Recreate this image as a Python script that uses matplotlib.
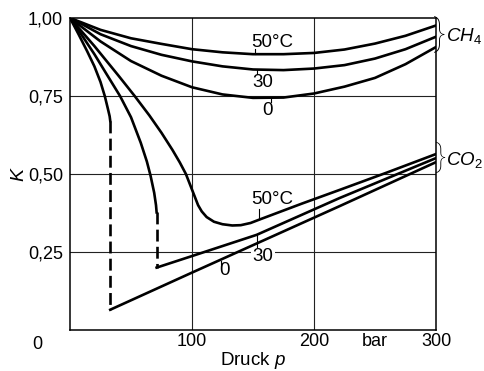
import matplotlib
matplotlib.use("Agg")
import matplotlib.pyplot as plt

plt.rcParams['font.family'] = 'Liberation Sans'
plt.rcParams['mathtext.fontset'] = 'custom'
plt.rcParams['mathtext.rm'] = 'Liberation Sans'
plt.rcParams['mathtext.it'] = 'Liberation Sans:italic'

# %% data (K over pressure p in bar)
p_ch4 = [0, 10, 25, 50, 75, 100, 125, 150, 175, 200, 225, 250, 275, 300]
k_ch4_50 = [1.0, 0.985, 0.962, 0.935, 0.917, 0.900, 0.890, 0.884, 0.884, 0.888, 0.899, 0.918, 0.943, 0.976]
k_ch4_30 = [1.0, 0.980, 0.948, 0.910, 0.882, 0.861, 0.845, 0.835, 0.833, 0.838, 0.849, 0.870, 0.900, 0.940]
k_ch4_0 = [1.0, 0.970, 0.925, 0.862, 0.815, 0.778, 0.755, 0.744, 0.745, 0.758, 0.780, 0.808, 0.852, 0.907]

# CO2 0 degC: solid drop, dashed jump, straight rise
p_co2_0_top = [0, 7, 14, 20, 25, 28.5, 31, 32.5, 33]
k_co2_0_top = [1.0, 0.948, 0.894, 0.845, 0.795, 0.75, 0.71, 0.685, 0.67]
p_co2_0_jump = [33, 33]
k_co2_0_jump = [0.67, 0.065]
p_co2_0_low = [33, 100, 150, 221, 300]
k_co2_0_low = [0.065, 0.184, 0.272, 0.397, 0.538]

# CO2 30 degC
p_co2_30_top = [0, 10, 20, 30, 41, 50, 58, 63, 66, 69, 70.5, 71]
k_co2_30_top = [1.0, 0.943, 0.884, 0.82, 0.75, 0.682, 0.60, 0.54, 0.495, 0.44, 0.40, 0.377]
p_co2_30_jump = [71, 71]
k_co2_30_jump = [0.377, 0.2]
p_co2_30_low = [71, 100, 153, 221, 300]
k_co2_30_low = [0.2, 0.237, 0.305, 0.423, 0.551]

# CO2 50 degC (no jump)
p_co2_50 = [0, 10, 20, 30, 40, 53, 65, 75, 84, 90, 95, 99, 102, 105, 108, 112, 118, 125, 133,
            140, 148, 156, 190, 221, 260, 300]
k_co2_50 = [1.0, 0.955, 0.91, 0.862, 0.814, 0.75, 0.688, 0.632, 0.577, 0.537, 0.50, 0.46, 0.43,
            0.40, 0.38, 0.362, 0.347, 0.339, 0.335, 0.336, 0.343, 0.355, 0.405, 0.449, 0.505, 0.564]

# curve labels: text, text position, tick line
labels = ["50°C", "30", "0", "50°C", "30", "0"]
label_x = [166, 158, 161.5, 166, 158, 127]
label_y = [0.923, 0.792, 0.703, 0.417, 0.234, 0.19]
tick_x = [152, 153, 165, 155, 153, 124]
tick_y0 = [0.884, 0.834, 0.742, 0.357, 0.305, 0.222]
tick_y1 = [0.900, 0.822, 0.730, 0.388, 0.265, 0.205]

xticks = [100, 200, 250, 300]
xticklabels = ["100", "200", "bar", "300"]
yticks = [0.25, 0.5, 0.75, 1.0]
yticklabels = ["0,25", "0,50", "0,75", "1,00"]

# %% plot
fig = plt.figure(figsize=(4.84, 3.71), dpi=100)
ax = fig.add_axes([70 / 484, 41 / 371, 366 / 484, 312 / 371])

lw = 1.9
for v in [100, 200]:
    ax.axvline(v, color="#222222", lw=0.8, zorder=1)
for h in [0.25, 0.5, 0.75]:
    ax.axhline(h, color="#222222", lw=0.8, zorder=1)

ax.plot(p_ch4, k_ch4_50, "k-", lw=lw, zorder=3)
ax.plot(p_ch4, k_ch4_30, "k-", lw=lw, zorder=3)
ax.plot(p_ch4, k_ch4_0, "k-", lw=lw, zorder=3)

ax.plot(p_co2_0_top, k_co2_0_top, "k-", lw=lw, zorder=3)
ax.plot(p_co2_0_jump, k_co2_0_jump, "k-", lw=lw, dashes=(4.5, 2), zorder=3)
ax.plot(p_co2_0_low, k_co2_0_low, "k-", lw=lw, zorder=3)
ax.plot(p_co2_30_top, k_co2_30_top, "k-", lw=lw, zorder=3)
ax.plot(p_co2_30_jump, k_co2_30_jump, "k-", lw=lw, dashes=(4.5, 2), zorder=3)
ax.plot(p_co2_30_low, k_co2_30_low, "k-", lw=lw, zorder=3)
ax.plot(p_co2_50, k_co2_50, "k-", lw=lw, zorder=3)

for i in range(len(labels)):
    ax.plot([tick_x[i], tick_x[i]], [tick_y0[i], tick_y1[i]], "k-", lw=0.8, zorder=3)
    ax.text(label_x[i], label_y[i], labels[i], fontsize=13.5, ha="center", va="center",
            zorder=2, bbox=dict(facecolor="white", edgecolor="none", pad=1))

ax.set_xlim(0, 300)
ax.set_ylim(0, 1.0)
ax.set_xticks(xticks)
ax.set_xticklabels(xticklabels, fontsize=13)
ax.set_yticks(yticks)
ax.set_yticklabels(yticklabels, fontsize=13)
ax.tick_params(length=0)
ax.tick_params(axis="x", pad=2)
ax.tick_params(axis="y", pad=5)
for s in ax.spines.values():
    s.set_linewidth(1.1)

ax.text(-27, -0.045, "0", fontsize=13, ha="center", va="center", clip_on=False)
ax.set_xlabel("Druck $p$", fontsize=13.5, labelpad=0)
ax.set_ylabel("$K$", fontsize=14)
ax.yaxis.set_label_coords(-0.115, 0.5)

# brackets and gas names on the right
ax.text(302.5, 0.947, "}", fontsize=26, family="Roboto", fontweight="light",
        ha="center", va="center", clip_on=False)
ax.text(308, 0.942, "$CH_4$", fontsize=13.5, ha="left", va="center", clip_on=False)
ax.text(303.5, 0.554, "}", fontsize=23, family="Roboto", fontweight="light",
        ha="center", va="center", clip_on=False)
ax.text(308, 0.545, "$CO_2$", fontsize=13.5, ha="left", va="center", clip_on=False)

fig.savefig("out.png", dpi=100)
